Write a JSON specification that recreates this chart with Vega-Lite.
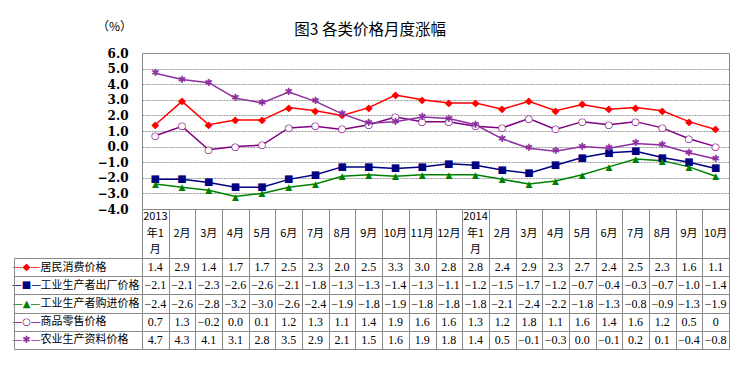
{
  "$schema": "https://vega.github.io/schema/vega-lite/v6.json",
  "padding": {"left": 10, "top": 20, "right": 5, "bottom": 5},
  "background": "white",
  "spacing": 0,
  "bounds": "flush",
  "title": {"text": "　　　　　 图3   各类价格月度涨幅", "font": "Noto Sans CJK SC", "fontSize": 15.5, "fontWeight": "normal", "color": "black", "anchor": "middle", "offset": -18},
  "config": {"view": {"stroke": "#888888", "strokeWidth": 1}, "font": "Noto Sans CJK SC"},
  "datasets": {
    "price": [
      {"月份": "2013年1月", "居民消费价格": 1.4, "工业生产者出厂价格": -2.1, "工业生产者购进价格": -2.4, "商品零售价格": 0.7, "农业生产资料价格": 4.7},
      {"月份": "2013年2月", "居民消费价格": 2.9, "工业生产者出厂价格": -2.1, "工业生产者购进价格": -2.6, "商品零售价格": 1.3, "农业生产资料价格": 4.3},
      {"月份": "2013年3月", "居民消费价格": 1.4, "工业生产者出厂价格": -2.3, "工业生产者购进价格": -2.8, "商品零售价格": -0.2, "农业生产资料价格": 4.1},
      {"月份": "2013年4月", "居民消费价格": 1.7, "工业生产者出厂价格": -2.6, "工业生产者购进价格": -3.2, "商品零售价格": 0.0, "农业生产资料价格": 3.1},
      {"月份": "2013年5月", "居民消费价格": 1.7, "工业生产者出厂价格": -2.6, "工业生产者购进价格": -3.0, "商品零售价格": 0.1, "农业生产资料价格": 2.8},
      {"月份": "2013年6月", "居民消费价格": 2.5, "工业生产者出厂价格": -2.1, "工业生产者购进价格": -2.6, "商品零售价格": 1.2, "农业生产资料价格": 3.5},
      {"月份": "2013年7月", "居民消费价格": 2.3, "工业生产者出厂价格": -1.8, "工业生产者购进价格": -2.4, "商品零售价格": 1.3, "农业生产资料价格": 2.9},
      {"月份": "2013年8月", "居民消费价格": 2.0, "工业生产者出厂价格": -1.3, "工业生产者购进价格": -1.9, "商品零售价格": 1.1, "农业生产资料价格": 2.1},
      {"月份": "2013年9月", "居民消费价格": 2.5, "工业生产者出厂价格": -1.3, "工业生产者购进价格": -1.8, "商品零售价格": 1.4, "农业生产资料价格": 1.5},
      {"月份": "2013年10月", "居民消费价格": 3.3, "工业生产者出厂价格": -1.4, "工业生产者购进价格": -1.9, "商品零售价格": 1.9, "农业生产资料价格": 1.6},
      {"月份": "2013年11月", "居民消费价格": 3.0, "工业生产者出厂价格": -1.3, "工业生产者购进价格": -1.8, "商品零售价格": 1.6, "农业生产资料价格": 1.9},
      {"月份": "2013年12月", "居民消费价格": 2.8, "工业生产者出厂价格": -1.1, "工业生产者购进价格": -1.8, "商品零售价格": 1.6, "农业生产资料价格": 1.8},
      {"月份": "2014年1月", "居民消费价格": 2.8, "工业生产者出厂价格": -1.2, "工业生产者购进价格": -1.8, "商品零售价格": 1.3, "农业生产资料价格": 1.4},
      {"月份": "2014年2月", "居民消费价格": 2.4, "工业生产者出厂价格": -1.5, "工业生产者购进价格": -2.1, "商品零售价格": 1.2, "农业生产资料价格": 0.5},
      {"月份": "2014年3月", "居民消费价格": 2.9, "工业生产者出厂价格": -1.7, "工业生产者购进价格": -2.4, "商品零售价格": 1.8, "农业生产资料价格": -0.1},
      {"月份": "2014年4月", "居民消费价格": 2.3, "工业生产者出厂价格": -1.2, "工业生产者购进价格": -2.2, "商品零售价格": 1.1, "农业生产资料价格": -0.3},
      {"月份": "2014年5月", "居民消费价格": 2.7, "工业生产者出厂价格": -0.7, "工业生产者购进价格": -1.8, "商品零售价格": 1.6, "农业生产资料价格": 0.0},
      {"月份": "2014年6月", "居民消费价格": 2.4, "工业生产者出厂价格": -0.4, "工业生产者购进价格": -1.3, "商品零售价格": 1.4, "农业生产资料价格": -0.1},
      {"月份": "2014年7月", "居民消费价格": 2.5, "工业生产者出厂价格": -0.3, "工业生产者购进价格": -0.8, "商品零售价格": 1.6, "农业生产资料价格": 0.2},
      {"月份": "2014年8月", "居民消费价格": 2.3, "工业生产者出厂价格": -0.7, "工业生产者购进价格": -0.9, "商品零售价格": 1.2, "农业生产资料价格": 0.1},
      {"月份": "2014年9月", "居民消费价格": 1.6, "工业生产者出厂价格": -1.0, "工业生产者购进价格": -1.3, "商品零售价格": 0.5, "农业生产资料价格": -0.4},
      {"月份": "2014年10月", "居民消费价格": 1.1, "工业生产者出厂价格": -1.4, "工业生产者购进价格": -1.9, "商品零售价格": 0, "农业生产资料价格": -0.8}
    ],
    "header": [
      {"月份": "2013年1月", "行": "a", "文字": "2013"},
      {"月份": "2013年1月", "行": "b", "文字": "年1"},
      {"月份": "2013年1月", "行": "c", "文字": "月"},
      {"月份": "2013年2月", "行": "b", "文字": "2月"},
      {"月份": "2013年3月", "行": "b", "文字": "3月"},
      {"月份": "2013年4月", "行": "b", "文字": "4月"},
      {"月份": "2013年5月", "行": "b", "文字": "5月"},
      {"月份": "2013年6月", "行": "b", "文字": "6月"},
      {"月份": "2013年7月", "行": "b", "文字": "7月"},
      {"月份": "2013年8月", "行": "b", "文字": "8月"},
      {"月份": "2013年9月", "行": "b", "文字": "9月"},
      {"月份": "2013年10月", "行": "b", "文字": "10月"},
      {"月份": "2013年11月", "行": "b", "文字": "11月"},
      {"月份": "2013年12月", "行": "b", "文字": "12月"},
      {"月份": "2014年1月", "行": "a", "文字": "2014"},
      {"月份": "2014年1月", "行": "b", "文字": "年1"},
      {"月份": "2014年1月", "行": "c", "文字": "月"},
      {"月份": "2014年2月", "行": "b", "文字": "2月"},
      {"月份": "2014年3月", "行": "b", "文字": "3月"},
      {"月份": "2014年4月", "行": "b", "文字": "4月"},
      {"月份": "2014年5月", "行": "b", "文字": "5月"},
      {"月份": "2014年6月", "行": "b", "文字": "6月"},
      {"月份": "2014年7月", "行": "b", "文字": "7月"},
      {"月份": "2014年8月", "行": "b", "文字": "8月"},
      {"月份": "2014年9月", "行": "b", "文字": "9月"},
      {"月份": "2014年10月", "行": "b", "文字": "10月"}
    ]
  },
  "vconcat": [
    {
      "width": 587,
      "height": 156,
      "title": {"text": "（%）", "font": "Noto Sans CJK SC", "fontSize": 12, "fontWeight": "normal", "color": "black", "anchor": "start", "frame": "bounds", "offset": 13},
      "data": {"name": "price"},
      "transform": [{"fold": ["居民消费价格", "工业生产者出厂价格", "工业生产者购进价格", "商品零售价格", "农业生产资料价格"], "as": ["series", "value"]}],
      "encoding": {
        "x": {
          "field": "月份", "type": "nominal", "sort": null,
          "scale": {"type": "band", "paddingInner": 0, "paddingOuter": 0},
          "axis": null
        },
        "y": {
          "field": "value", "type": "quantitative",
          "scale": {"domain": [-4, 6], "nice": false, "zero": false},
          "axis": {
            "title": null,
            "values": [-4, -3, -2, -1, 0, 1, 2, 3, 4, 5, 6], "format": ".1f",
            "ticks": false, "domain": false, "labelPadding": 14,
            "labelFont": "DejaVu Serif", "labelFontSize": 12, "labelFontWeight": "bold", "labelColor": "black",
            "gridColor": "#999999", "gridDash": [2, 1], "gridWidth": 1
          }
        }
      },
      "layer": [
        {
          "mark": {"type": "line", "strokeWidth": 1.5},
          "encoding": {
            "color": {
              "field": "series", "type": "nominal", "legend": null,
              "scale": {"domain": ["居民消费价格", "工业生产者出厂价格", "工业生产者购进价格", "商品零售价格", "农业生产资料价格"], "range": ["#FF0000", "#000080", "#008000", "#800080", "#8E30A0"]}
            }
          }
        },
        {
          "transform": [{"filter": {"field": "series", "equal": "居民消费价格"}}],
          "mark": {"type": "text", "text": "◆", "color": "#FF0000", "font": "DejaVu Sans", "fontSize": 10, "baseline": "middle", "align": "center"}
        },
        {
          "transform": [{"filter": {"field": "series", "equal": "工业生产者出厂价格"}}],
          "mark": {"type": "text", "text": "■", "color": "#000080", "font": "DejaVu Sans", "fontSize": 10, "baseline": "middle", "align": "center"}
        },
        {
          "transform": [{"filter": {"field": "series", "equal": "工业生产者购进价格"}}],
          "mark": {"type": "text", "text": "▲", "color": "#008000", "font": "DejaVu Sans", "fontSize": 9, "baseline": "middle", "align": "center"}
        },
        {
          "transform": [{"filter": {"field": "series", "equal": "商品零售价格"}}],
          "mark": {"type": "text", "text": "●", "color": "#FFFFFF", "font": "DejaVu Sans", "fontSize": 9, "baseline": "middle", "align": "center"}
        },
        {
          "transform": [{"filter": {"field": "series", "equal": "商品零售价格"}}],
          "mark": {"type": "text", "text": "○", "color": "#800080", "font": "DejaVu Sans", "fontSize": 10, "baseline": "middle", "align": "center"}
        },
        {
          "transform": [{"filter": {"field": "series", "equal": "农业生产资料价格"}}],
          "mark": {"type": "text", "text": "✱", "color": "#8E30A0", "font": "DejaVu Sans", "fontSize": 10, "baseline": "middle", "align": "center"}
        }
      ]
    },
    {
      "width": 587,
      "height": 49,
      "data": {"name": "header"},
      "mark": {"type": "text", "font": "Noto Sans CJK SC", "fontSize": 11, "color": "black", "baseline": "middle", "align": "center"},
      "encoding": {
        "x": {
          "field": "月份", "type": "nominal", "sort": null,
          "scale": {"type": "band", "paddingInner": 0, "paddingOuter": 0},
          "axis": {"orient": "top", "title": null, "labels": false, "ticks": false, "domain": false, "grid": true, "tickBand": "extent", "gridColor": "#888888"}
        },
        "y": {
          "field": "行", "type": "nominal", "sort": ["a", "b", "c"],
          "scale": {"type": "band", "paddingInner": 0, "paddingOuter": 0},
          "axis": null
        },
        "text": {"field": "文字", "type": "nominal"}
      }
    },
    {
      "width": 587,
      "height": 91,
      "data": {"name": "price"},
      "transform": [{"fold": ["居民消费价格", "工业生产者出厂价格", "工业生产者购进价格", "商品零售价格", "农业生产资料价格"], "as": ["series", "value"]}],
      "layer": [
        {
          "mark": {"type": "text", "font": "Liberation Serif", "fontSize": 12, "color": "black", "baseline": "middle"},
          "encoding": {
            "x": {
              "field": "月份", "type": "nominal", "sort": null,
              "scale": {"type": "band", "paddingInner": 0, "paddingOuter": 0},
              "axis": {"orient": "top", "title": null, "labels": false, "ticks": false, "domain": false, "grid": true, "tickBand": "extent", "gridColor": "#888888"}
            },
            "y": {
              "field": "series", "type": "nominal",
              "sort": ["居民消费价格", "工业生产者出厂价格", "工业生产者购进价格", "商品零售价格", "农业生产资料价格"],
              "scale": {"type": "band", "paddingInner": 0, "paddingOuter": 0},
              "axis": {
                "orient": "left", "title": null, "grid": true, "tickBand": "extent", "gridColor": "#888888",
                "tickSize": 128, "tickColor": "#888888", "domain": false, "labelOverlap": false,
                "labelAlign": "left", "labelPadding": -26, "labelBaseline": "middle",
                "labelFont": "Noto Sans CJK SC", "labelFontSize": 11, "labelColor": "black"
              }
            },
            "text": {
              "condition": {"test": "datum['月份'] == '2014年10月' && datum.series == '商品零售价格'", "value": "0"},
              "field": "value", "type": "quantitative", "format": ".1f"
            }
          }
        },
        {
          "mark": {"type": "text", "text": ""},
          "encoding": {
            "y": {
              "field": "series", "type": "nominal",
              "sort": ["居民消费价格", "工业生产者出厂价格", "工业生产者购进价格", "商品零售价格", "农业生产资料价格"],
              "scale": {"type": "band", "paddingInner": 0, "paddingOuter": 0},
              "axis": {
                "orient": "left", "offset": 128, "title": null, "ticks": false, "grid": false,
                "domain": true, "domainColor": "#888888", "labelOverlap": false,
                "labelAlign": "center", "labelPadding": -12, "labelBaseline": "middle",
                "labelExpr": "datum.value == '居民消费价格' ? '—◆—' : datum.value == '工业生产者出厂价格' ? '—■—' : datum.value == '工业生产者购进价格' ? '—▲—' : datum.value == '商品零售价格' ? '—○—' : '—✱—'",
                "labelFont": "DejaVu Sans", "labelFontSize": 10,
                "labelColor": {
                  "condition": [
                    {"test": "datum.value == '居民消费价格'", "value": "#FF0000"},
                    {"test": "datum.value == '工业生产者出厂价格'", "value": "#000080"},
                    {"test": "datum.value == '工业生产者购进价格'", "value": "#008000"},
                    {"test": "datum.value == '商品零售价格'", "value": "#800080"}
                  ],
                  "value": "#8E30A0"
                }
              }
            }
          }
        }
      ],
      "resolve": {"scale": {"y": "independent"}, "axis": {"y": "independent"}}
    }
  ]
}
